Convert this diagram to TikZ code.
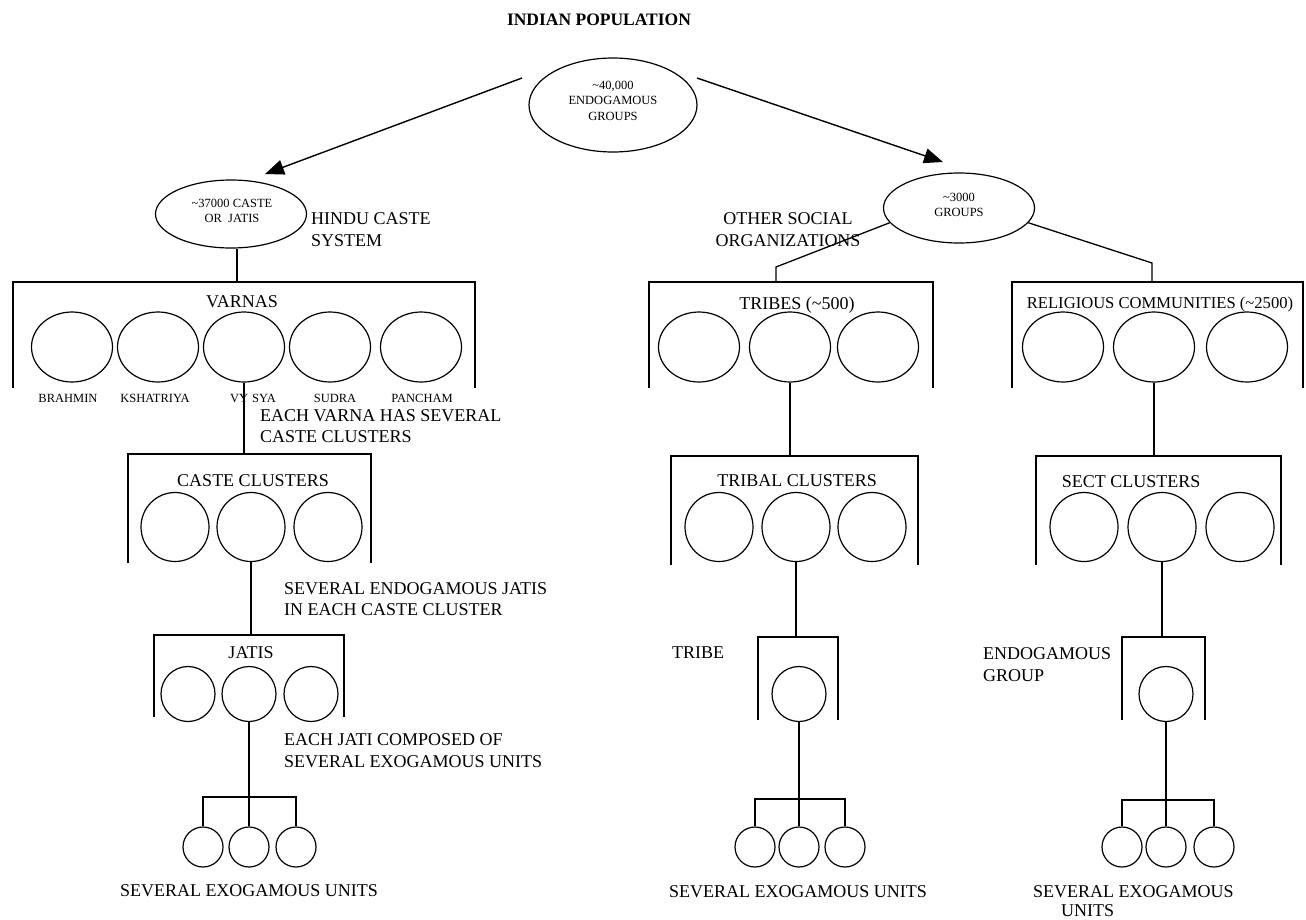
\documentclass[tikz,border=0pt]{standalone}
\usepackage{fontspec}
\setmainfont{Liberation Serif}
\usetikzlibrary{shapes.geometric,arrows.meta}
\begin{document}
\begin{tikzpicture}[x=1pt,y=-1pt,
  ln/.style={line width=1.3pt},
  bx/.style={line width=1.5pt},
  e1/.style={draw,ellipse,line width=1.2pt,minimum width=81pt,minimum height=70pt,inner sep=0pt},
  e2/.style={draw,ellipse,line width=1.2pt,minimum width=68pt,minimum height=69pt,inner sep=0pt},
  e3/.style={draw,ellipse,line width=1.2pt,minimum width=54pt,minimum height=55pt,inner sep=0pt},
  e4/.style={draw,ellipse,line width=1.2pt,minimum width=40pt,minimum height=40pt,inner sep=0pt},
  big/.style={font=\fontsize{18}{21.5}\selectfont, inner sep=0pt},
  sml/.style={font=\fontsize{12.5}{15.5}\selectfont, inner sep=0pt, align=center},
  arr/.style={line width=1.4pt, -{Triangle[length=19pt,width=15pt]}}
]
\useasboundingbox (0,0) rectangle (1306,919);
% title
\node[inner sep=0pt,font=\fontsize{17.5}{20}\selectfont\bfseries] (title) at (599,20) {INDIAN POPULATION};
% top ellipse
\node[draw,ellipse,line width=1.2pt,minimum width=168pt,minimum height=94pt,inner sep=0pt] (top) at (613,105) {};
\node[sml] (topt) at (613,100.5) {\textasciitilde40,000\\ENDOGAMOUS\\GROUPS};
\coordinate (al0) at (522,78);
\coordinate (al1) at (265,174);
\coordinate (ar0) at (697,78);
\coordinate (ar1) at (943,162);
\draw[arr] (al0) -- (al1);
\draw[arr] (ar0) -- (ar1);
% left branch
\node[draw,ellipse,line width=1.2pt,minimum width=151pt,minimum height=68pt,inner sep=0pt] (el37) at (231,214) {};
\node[sml] (el37t) at (232,211) {\textasciitilde37000 CASTE\\OR\ \ JATIS};
\node[big,align=left,anchor=west] (hindu) at (311,229.5) {HINDU CASTE\\SYSTEM};
\coordinate (vtop) at (237,282);
\draw[ln] (vtop |- el37.south) -- (vtop);
\draw[bx] (13,388) -- (13,282) -- (475,282) -- (475,388);
\node[big] (varnas) at (242,302) {VARNAS};
\node[e1] (v1) at (72,347) {};
\node[e1] (v2) at (158,347) {};
\node[e1] (v3) at (244,347) {};
\node[e1] (v4) at (330,347) {};
\node[e1] (v5) at (421,347) {};
\node[sml] (lv1) at (68,398) {BRAHMIN};
\node[sml] (lv2) at (155,398) {KSHATRIYA};
\node[sml] (lv3) at (253,398) {VY\hspace{4pt}SYA};
\node[sml] (lv4) at (335,398) {SUDRA};
\node[sml] (lv5) at (422,398) {PANCHAM};
\node[big,align=left,anchor=west] (eachv) at (260,426) {EACH VARNA HAS SEVERAL\\CASTE CLUSTERS};
\coordinate (ctop) at (244,454);
\draw[ln] (v3.south) -- (ctop);
\draw[bx] (128,563) -- (128,454) -- (371,454) -- (371,563);
\node[big] (castecl) at (253,481) {CASTE CLUSTERS};
\node[e2] (c1) at (175,527) {};
\node[e2] (c2) at (251,527) {};
\node[e2] (c3) at (328,527) {};
\node[big,align=left,anchor=west] (sevend) at (284,599) {SEVERAL ENDOGAMOUS JATIS\\IN EACH CASTE CLUSTER};
\coordinate (jtop) at (251,635);
\draw[ln] (c2.south) -- (jtop);
\draw[bx] (154,717) -- (154,635) -- (344,635) -- (344,717);
\node[big] (jatis) at (251,653) {JATIS};
\node[e3] (j1) at (188,694) {};
\node[e3] (j2) at (249,694) {};
\node[e3] (j3) at (311,694) {};
\node[big,align=left,anchor=west] (eachj) at (284,750.5) {EACH JATI COMPOSED OF\\SEVERAL EXOGAMOUS UNITS};
\node[e4] (u1) at (203,847) {};
\node[e4] (u2) at (249,847) {};
\node[e4] (u3) at (296,847) {};
\draw[ln] (j2.south) -- (u2.north);
\draw[ln] (u1.north) -- (u1.north |- 0,797) -- (u3.north |- 0,797) -- (u3.north);
\node[big] (sevexl) at (249,891) {SEVERAL EXOGAMOUS UNITS};
% right branch
\node[draw,ellipse,line width=1.2pt,minimum width=151pt,minimum height=70pt,inner sep=0pt] (g3) at (959,208) {};
\node[sml] (g3t) at (959,205) {\textasciitilde3000\\GROUPS};
\node[big,align=center] (other) at (788,229.5) {OTHER SOCIAL\\ORGANIZATIONS};
\coordinate (tbk) at (776,267);
\coordinate (tbtop) at (776,282);
\coordinate (rbk) at (1152,263);
\coordinate (rbtop) at (1152,282);
\draw[ln] (g3.192) -- (tbk) -- (tbtop);
\draw[ln] (g3.348) -- (rbk) -- (rbtop);
\draw[bx] (649,388) -- (649,282) -- (933,282) -- (933,388);
\node[big] (tribes) at (797,305) {TRIBES (\textasciitilde500)};
\node[e1] (t1) at (699,347) {};
\node[e1] (t2) at (790,347) {};
\node[e1] (t3) at (878,347) {};
\draw[bx] (1012,388) -- (1012,282) -- (1303,282) -- (1303,388);
\node[big,font=\fontsize{16.6}{20}\selectfont] (relig) at (1160,305) {RELIGIOUS COMMUNITIES (\textasciitilde2500)};
\node[e1] (r1) at (1063,347) {};
\node[e1] (r2) at (1154,347) {};
\node[e1] (r3) at (1247,347) {};
% tribal clusters
\coordinate (tctop) at (790,456);
\draw[ln] (t2.south) -- (tctop);
\draw[bx] (671,565) -- (671,456) -- (918,456) -- (918,565);
\node[big] (tribal) at (797,481) {TRIBAL CLUSTERS};
\node[e2] (tc1) at (719,527) {};
\node[e2] (tc2) at (796,527) {};
\node[e2] (tc3) at (872,527) {};
\coordinate (tbxtop) at (796,637);
\draw[ln] (tc2.south) -- (tbxtop);
\draw[bx] (758,720) -- (758,637) -- (838,637) -- (838,720);
\node[big,anchor=west] (tribe) at (672,653) {TRIBE};
\node[e3] (tb) at (799,694) {};
\node[e4] (tu1) at (755,847) {};
\node[e4] (tu2) at (799,847) {};
\node[e4] (tu3) at (845,847) {};
\draw[ln] (tb.south) -- (tu2.north);
\draw[ln] (tu1.north) -- (tu1.north |- 0,799) -- (tu3.north |- 0,799) -- (tu3.north);
\node[big] (sevext) at (798,892) {SEVERAL EXOGAMOUS UNITS};
% sect clusters
\coordinate (sctop) at (1154,456);
\draw[ln] (r2.south) -- (sctop);
\draw[bx] (1036,565) -- (1036,456) -- (1281,456) -- (1281,565);
\node[big] (sect) at (1131,482) {SECT CLUSTERS};
\node[e2] (s1) at (1084,527) {};
\node[e2] (s2) at (1162,527) {};
\node[e2] (s3) at (1240,527) {};
\coordinate (ebxtop) at (1162,637);
\draw[ln] (s2.south) -- (ebxtop);
\draw[bx] (1122,720) -- (1122,637) -- (1205,637) -- (1205,720);
\node[big,align=left,anchor=west] (endog) at (983,664.5) {ENDOGAMOUS\\GROUP};
\node[e3] (eg) at (1166,694) {};
\node[e4] (su1) at (1122,847) {};
\node[e4] (su2) at (1166,847) {};
\node[e4] (su3) at (1214,847) {};
\draw[ln] (eg.south) -- (su2.north);
\draw[ln] (su1.north) -- (su1.north |- 0,800) -- (su3.north |- 0,800) -- (su3.north);
\node[big,align=left,anchor=west] (sevexs) at (1033,901) {SEVERAL EXOGAMOUS\\[-3pt]\hspace*{28pt}UNITS};
\end{tikzpicture}
\end{document}
